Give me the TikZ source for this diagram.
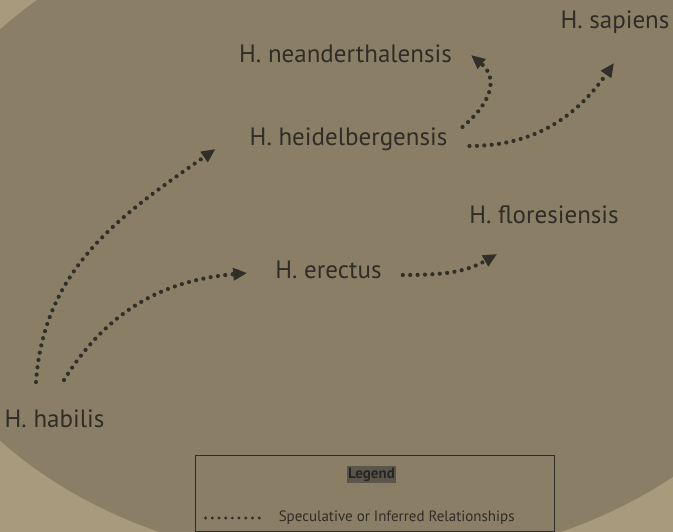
\documentclass[tikz,border=0pt]{standalone}
\usepackage{fontspec}
\setmainfont{PT Sans}
\usepackage{tikz}
\usetikzlibrary{arrows.meta,positioning,calc}

\definecolor{paper}{RGB}{138,127,102}
\definecolor{paperlight}{RGB}{168,154,124}
\definecolor{ink}{RGB}{48,44,38}
\definecolor{dotink}{RGB}{50,46,40}
\definecolor{legendhl}{RGB}{92,86,74}

\begin{document}
\begin{tikzpicture}[
  x=1pt, y=-1pt,
  species/.style={text=ink, inner sep=0pt, font=\fontsize{25}{28}\selectfont},
  rel/.style={dotink, line width=4.2pt, line cap=round, dash pattern=on 0pt off 7.4pt,
    -{Triangle[length=14pt, width=12pt, line cap=butt]}},
  legbox/.style={draw=ink, line width=0.9pt, minimum width=359pt, minimum height=76pt, inner sep=0pt},
  legtitle/.style={fill=legendhl, text=black!85, inner sep=1.5pt, font=\fontsize{15}{17}\selectfont\bfseries},
  legtext/.style={text=ink, inner sep=0pt, anchor=west, font=\fontsize{15}{17}\selectfont}
]
% paper
\useasboundingbox (0,0) rectangle (673,532);
\begin{scope}
\clip (0,0) rectangle (673,532);
\fill[paperlight] (0,0) rectangle (673,532);
\fill[paper] (360,235) ellipse [x radius=460, y radius=330];
\end{scope}

% species
\node[species] (sapiens) at (615,22) {H. sapiens};
\node[species] (neander) at (345.5,54) {H. neanderthalensis};
\node[species] (heidel) at (348.5,139) {H. heidelbergensis};
\node[species] (flores) at (544,215) {H. floresiensis};
\node[species] (erectus) at (328.5,270) {H. erectus};
\node[species] (habilis) at (54.5,419) {H. habilis};

% relationships
\draw[rel] ($(habilis.center)+(-18.5,-37)$) to[out=86, in=215] ($(heidel.west)+(-34,10)$);
\draw[rel] ($(habilis.center)+(9.5,-39)$) to[out=58, in=185] ($(erectus.west)+(-28,3)$);
\draw[rel] ($(erectus.east)+(21,5)$) to[out=0, in=210] ($(flores.west)+(28,39)$);
\draw[rel] ($(heidel.east)+(15,-12)$) to[out=40, in=-40, looseness=1.3] ($(neander.east)+(19,1)$);
\draw[rel] ($(heidel.east)+(22,7)$) to[out=0, in=235] ($(sapiens.center)+(-1,41)$);

% legend
\node[legbox] (legend) at (374.5,493) {};
\node[legtitle] (legtitle) at ($(legend.north)+(-3,20)$) {Legend};
\coordinate (legA) at ($(legend.west)+(11,25)$);
\coordinate (legB) at ($(legA)+(60,0)$);
\draw[dotink, line width=3.2pt, line cap=round, dash pattern=on 0pt off 6.7pt] (legA) -- (legB);
\node[legtext] (legentry) at ($(legB)+(13,0)$) {Speculative or Inferred Relationships};
\end{tikzpicture}
\end{document}
